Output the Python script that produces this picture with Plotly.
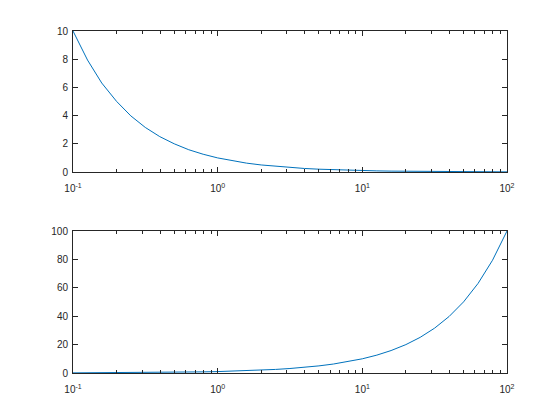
import plotly.graph_objects as go

x = [0.1, 0.126, 0.158, 0.2, 0.251, 0.316, 0.398, 0.501, 0.631, 0.794,
     1.0, 1.26, 1.58, 2.0, 2.51, 3.16, 3.98, 5.01, 6.31, 7.94,
     10.0, 12.6, 15.8, 20.0, 25.1, 31.6, 39.8, 50.1, 63.1, 79.4, 100.0]
y_top = [10.0, 7.94, 6.31, 5.01, 3.98, 3.16, 2.51, 2.0, 1.58, 1.26,
         1.0, 0.79, 0.63, 0.50, 0.40, 0.32, 0.25, 0.20, 0.16, 0.13,
         0.10, 0.079, 0.063, 0.050, 0.040, 0.032, 0.025, 0.020, 0.016, 0.013, 0.010]
y_bottom = [0.1, 0.126, 0.158, 0.2, 0.251, 0.316, 0.398, 0.501, 0.631, 0.794,
            1.0, 1.26, 1.58, 2.0, 2.51, 3.16, 3.98, 5.01, 6.31, 7.94,
            10.0, 12.6, 15.8, 20.0, 25.1, 31.6, 39.8, 50.1, 63.1, 79.4, 100.0]

x_tickvals = [0.1, 1, 10, 100]
x_ticktext = ["10<sup>-1</sup>", "10<sup>0</sup>", "10<sup>1</sup>", "10<sup>2</sup>"]
x_minorvals = [0.2, 0.3, 0.4, 0.5, 0.6, 0.7, 0.8, 0.9,
               2, 3, 4, 5, 6, 7, 8, 9,
               20, 30, 40, 50, 60, 70, 80, 90]
top_yticks = [0, 2, 4, 6, 8, 10]
bottom_yticks = [0, 20, 40, 60, 80, 100]

line_color = "#0072BD"
axis_color = "#262626"
font = dict(family="Liberation Sans", size=10, color=axis_color)

fig = go.Figure()
fig.add_trace(go.Scatter(x=x, y=y_top, mode="lines",
                         line=dict(color=line_color, width=1),
                         xaxis="x", yaxis="y", showlegend=False))
fig.add_trace(go.Scatter(x=x, y=y_bottom, mode="lines",
                         line=dict(color=line_color, width=1),
                         xaxis="x2", yaxis="y2", showlegend=False))

common_x = dict(type="log", range=[-1, 2], tickmode="array", tickvals=x_tickvals, ticktext=x_ticktext,
                ticks="inside", ticklen=5, tickcolor=axis_color, linecolor=axis_color,
                linewidth=1, mirror="allticks", showline=True, showgrid=False,
                zeroline=False, tickfont=font, ticklabelstandoff=7,
                minor=dict(tickmode="array", tickvals=x_minorvals, ticks="inside",
                           ticklen=3, tickcolor=axis_color, showgrid=False))
common_y = dict(ticks="inside", ticklen=5, tickcolor=axis_color, linecolor=axis_color,
                linewidth=1, mirror="allticks", showline=True, showgrid=False,
                zeroline=False, tickfont=font, ticklabelstandoff=2)

# page has an 8px body margin, so the figure is 8px smaller and margins shifted
fig.update_layout(
    width=552, height=412,
    margin=dict(l=65, r=53, t=23, b=47),
    paper_bgcolor="white", plot_bgcolor="white",
    xaxis=dict(domain=[0, 1], anchor="y", **common_x),
    yaxis=dict(domain=[0.5877, 1], anchor="x", range=[0, 10], tickvals=top_yticks, **common_y),
    xaxis2=dict(domain=[0, 1], anchor="y2", **common_x),
    yaxis2=dict(domain=[0, 0.4152], anchor="x2", range=[0, 100], tickvals=bottom_yticks, **common_y),
)

fig.write_html("out.html")
